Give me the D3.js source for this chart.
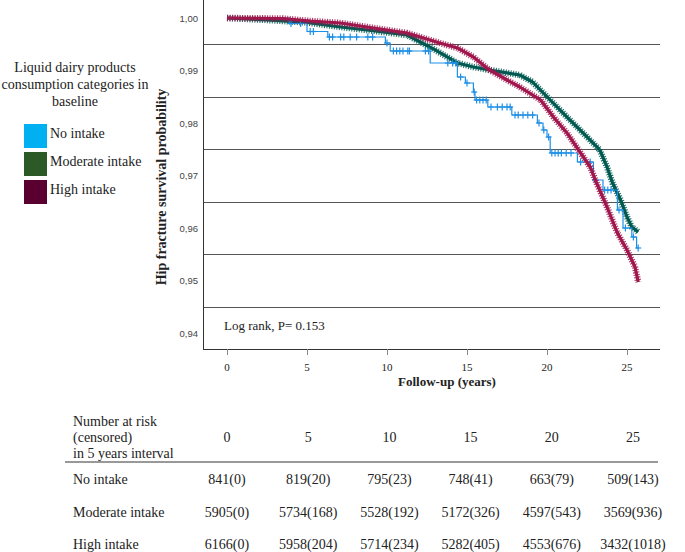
<!DOCTYPE html>
<html lang="en">
<head>
<meta charset="UTF-8">
<title>Hip fracture survival by liquid dairy intake</title>
<style>
  body { margin: 0; background: #fff; }
  text { font-family: "Liberation Serif", "Times New Roman", serif; fill: #222; }
  .ytick { font-family: "Liberation Sans", Arial, sans-serif; font-size: 9.5px; fill: #444; }
</style>
</head>
<body>
<script src="https://d3js.org/d3.v7.min.js"></script>
<script>
// categories and colours
var groups = ["No intake", "Moderate intake", "High intake"];
var swatchColors = ["#00b0f0", "#2b5a26", "#5a0030"];
var lineColors = ["#1e8fe6", "#005a51", "#a0184e"];

// survival curves: [years, survival]
var noIntake = [[0, 1.0], [3.9, 0.99895], [5.0, 0.99743], [6.3, 0.99638], [9.9, 0.99524],
  [10.2, 0.99371], [12.7, 0.99143], [14.4, 0.98876], [14.9, 0.98762], [15.4, 0.9859],
  [15.5, 0.98438], [16.3, 0.98305], [17.8, 0.98152], [19.4, 0.98], [19.75, 0.97867],
  [20.0, 0.97733], [20.2, 0.97429], [21.9, 0.97257], [22.9, 0.96914], [23.5, 0.96724],
  [24.4, 0.96343], [24.75, 0.96], [25.3, 0.95829], [25.6, 0.95619], [25.7, 0.95619]];
var noIntakeCensored = [4.0, 4.6, 5.2, 5.4, 6.4, 6.6, 7.1, 7.3, 7.7, 8.1, 8.8, 9.1, 10.0,
  10.4, 10.6, 10.8, 11.0, 11.3, 11.4, 12.4, 12.6, 13.8, 14.1, 14.3, 14.6, 15.0, 15.45, 15.6,
  15.8, 16.0, 16.2, 16.5, 16.9, 17.2, 17.5, 17.7, 18.0, 18.2, 18.5, 18.8, 19.1, 19.5, 19.8,
  20.1, 20.3, 20.5, 20.7, 20.9, 21.2, 21.5, 22.1, 22.7, 23.0, 23.6, 23.8, 24.0, 24.5,
  24.9, 25.4, 25.7];
var moderate = [[0, 1.0], [2.5, 0.99962], [5.0, 0.99914], [7.1, 0.99829], [8.75, 0.99771],
  [11.25, 0.99676], [12.9, 0.9941], [14.4, 0.99143], [15.4, 0.99067], [16.4, 0.9901],
  [18.3, 0.98914], [19.1, 0.98781], [20.2, 0.98438], [21.25, 0.98114], [22.25, 0.9781],
  [23.3, 0.97486], [23.75, 0.97162], [24.1, 0.96857], [24.6, 0.96533], [25.0, 0.9621],
  [25.3, 0.96019], [25.7, 0.95924]];
var high = [[0, 1.0], [3.5, 0.9999], [5.2, 0.99943], [7.1, 0.99905], [8.75, 0.99829],
  [11.25, 0.99714], [13.3, 0.99524], [14.4, 0.99429], [15.4, 0.99257], [16.4, 0.9901],
  [17.5, 0.98819], [18.3, 0.98686], [19.6, 0.98438], [20.4, 0.98114], [21.25, 0.9781],
  [22.1, 0.97429], [22.7, 0.97162], [23.1, 0.96857], [23.75, 0.964], [24.4, 0.95905],
  [25.0, 0.95581], [25.5, 0.95257], [25.7, 0.94971]];

var xTicks = [0, 5, 10, 15, 20, 25];
var yTicks = [1.00, 0.99, 0.98, 0.97, 0.96, 0.95, 0.94];
var gridValues = [0.995, 0.985, 0.975, 0.965, 0.955, 0.945];

// number at risk (censored)
var riskTimes = [0, 5, 10, 15, 20, 25];
var riskNoIntake = ["841(0)", "819(20)", "795(23)", "748(41)", "663(79)", "509(143)"];
var riskModerate = ["5905(0)", "5734(168)", "5528(192)", "5172(326)", "4597(543)", "3569(936)"];
var riskHigh = ["6166(0)", "5958(204)", "5714(234)", "5282(405)", "4553(676)", "3432(1018)"];

var width = 685, height = 552;
var svg = d3.select("body").append("svg")
  .attr("width", width).attr("height", height);

var x = d3.scaleLinear().domain([0, 25]).range([227, 627]);
var y = d3.scaleLinear().domain([0.94, 1.00]).range([333, 18]);
var plotLeft = 203, plotRight = 660, plotBottom = 349;

// grid lines (SPSS puts them between the tick values)
svg.selectAll(".grid").data(gridValues).enter().append("line")
  .attr("x1", plotLeft).attr("x2", plotRight)
  .attr("y1", function(d) { return Math.round(y(d)) + 0.5; })
  .attr("y2", function(d) { return Math.round(y(d)) + 0.5; })
  .attr("stroke", "#555").attr("stroke-width", 1);

// axes
svg.append("line").attr("x1", plotLeft + 0.5).attr("x2", plotLeft + 0.5)
  .attr("y1", 0).attr("y2", plotBottom).attr("stroke", "#333");
svg.append("line").attr("x1", plotLeft).attr("x2", plotRight)
  .attr("y1", plotBottom + 0.5).attr("y2", plotBottom + 0.5).attr("stroke", "#333");

svg.selectAll(".xt").data(xTicks).enter().append("line")
  .attr("x1", function(d) { return Math.round(x(d)) + 0.5; })
  .attr("x2", function(d) { return Math.round(x(d)) + 0.5; })
  .attr("y1", plotBottom).attr("y2", plotBottom + 6).attr("stroke", "#888");
svg.selectAll(".xl").data(xTicks).enter().append("text")
  .attr("x", function(d) { return x(d); }).attr("y", 371)
  .attr("text-anchor", "middle").style("font-size", "11px").text(function(d) { return d; });

svg.selectAll(".yl").data(yTicks).enter().append("text")
  .attr("class", "ytick")
  .attr("x", 198).attr("y", function(d) { return y(d) + 3.5; })
  .attr("text-anchor", "end")
  .text(function(d) { return d3.format(".2f")(d).replace(".", ","); });

svg.append("text").attr("transform", "translate(166,187) rotate(-90)")
  .attr("text-anchor", "middle").style("font-size", "14px").style("font-weight", "bold")
  .text("Hip fracture survival probability");
svg.append("text").attr("x", 447).attr("y", 386).attr("text-anchor", "middle")
  .style("font-size", "13px").style("font-weight", "bold").text("Follow-up (years)");

svg.append("text").attr("x", 224).attr("y", 330).style("font-size", "13px")
  .text("Log rank, P= 0.153");

// curves
var line = d3.line().x(function(d) { return x(d[0]); }).y(function(d) { return y(d[1]); });
var stepLine = d3.line().curve(d3.curveStepAfter)
  .x(function(d) { return x(d[0]); }).y(function(d) { return y(d[1]); });

function band(data, color) {
  svg.append("path").attr("d", line(data)).attr("fill", "none")
    .attr("stroke", color).attr("stroke-width", 3.2).attr("stroke-linejoin", "round");
  svg.append("path").attr("d", line(data)).attr("fill", "none")
    .attr("stroke", color).attr("stroke-width", 6.5).attr("stroke-dasharray", "1.1,1.4")
    .attr("opacity", 0.85);
}

band(moderate, lineColors[1]);

svg.append("path").attr("d", stepLine(noIntake)).attr("fill", "none")
  .attr("stroke", lineColors[0]).attr("stroke-width", 1.2);
function stepValue(t) {
  var v = noIntake[0][1];
  noIntake.forEach(function(p) { if (p[0] <= t) v = p[1]; });
  return v;
}
var cens = svg.selectAll(".cens").data(noIntakeCensored).enter().append("g")
  .attr("transform", function(d) { return "translate(" + x(d) + "," + y(stepValue(d)) + ")"; });
cens.append("line").attr("x1", -3).attr("x2", 3).attr("stroke", lineColors[0]).attr("stroke-width", 1.2);
cens.append("line").attr("y1", -3.5).attr("y2", 3.5).attr("stroke", lineColors[0]).attr("stroke-width", 1.2);

band(high, lineColors[2]);

// legend
var legendTitle = ["Liquid dairy products", "consumption categories in", "baseline"];
svg.selectAll(".lt").data(legendTitle).enter().append("text")
  .attr("x", 75).attr("y", function(d, i) { return 72 + i * 17; })
  .attr("text-anchor", "middle").style("font-size", "14px").text(function(d) { return d; });
var leg = svg.selectAll(".leg").data(groups).enter().append("g")
  .attr("transform", function(d, i) { return "translate(24," + (124 + i * 28) + ")"; });
leg.append("rect").attr("width", 23).attr("height", 24)
  .attr("fill", function(d, i) { return swatchColors[i]; });
leg.append("text").attr("x", 26).attr("y", 14).style("font-size", "14px")
  .text(function(d) { return d; });

// number at risk table
var colX = d3.scaleLinear().domain([0, 25]).range([227, 633]);
var header = ["Number at risk", "(censored)", "in 5 years interval"];
svg.selectAll(".hd").data(header).enter().append("text")
  .attr("x", 73).attr("y", function(d, i) { return 426 + i * 16; })
  .style("font-size", "14px").text(function(d) { return d; });
svg.selectAll(".ct").data(riskTimes).enter().append("text")
  .attr("x", function(d) { return colX(d); }).attr("y", 442)
  .attr("text-anchor", "middle").style("font-size", "14px").text(function(d) { return d; });
svg.append("line").attr("x1", 65).attr("x2", 658).attr("y1", 462).attr("y2", 462)
  .attr("stroke", "#777").attr("stroke-width", 1.5);

var rows = [riskNoIntake, riskModerate, riskHigh];
rows.forEach(function(row, r) {
  var ry = 484 + r * 32.5;
  svg.append("text").attr("x", 73).attr("y", ry).style("font-size", "14px").text(groups[r]);
  svg.selectAll(".r" + r).data(row).enter().append("text")
    .attr("x", function(d, i) { return colX(riskTimes[i]); }).attr("y", ry)
    .attr("text-anchor", "middle").style("font-size", "14px").text(function(d) { return d; });
});
</script>
</body>
</html>
